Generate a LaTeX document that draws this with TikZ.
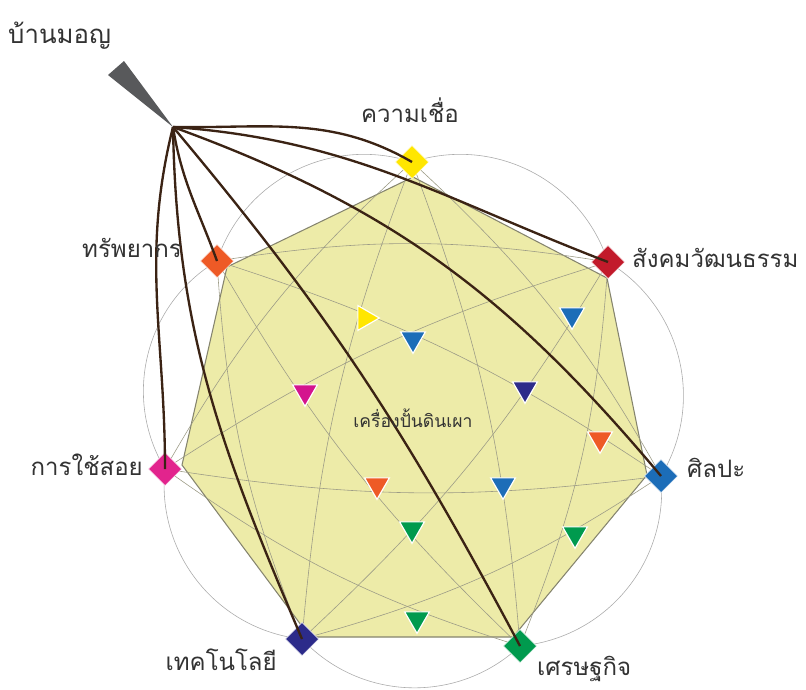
\documentclass[tikz,border=0pt]{standalone}
\usepackage{fontspec}
\newfontfamily\thaifont[Script=Thai]{Loma}
\usetikzlibrary{shapes.geometric}
\definecolor{khaki}{HTML}{EDEBA8}
\definecolor{rimgray}{HTML}{85846E}
\definecolor{webgray}{HTML}{9C9B86}
\definecolor{arcgray}{HTML}{ABABAB}
\definecolor{rootbrown}{HTML}{3B2314}
\definecolor{wedgegray}{HTML}{58595B}
\definecolor{txtgray}{HTML}{333333}
\definecolor{cYellow}{HTML}{FFE600}
\definecolor{cRed}{HTML}{C21A2B}
\definecolor{cBlue}{HTML}{1C6DB8}
\definecolor{cGreen}{HTML}{009A4E}
\definecolor{cNavy}{HTML}{2C2B8A}
\definecolor{cPink}{HTML}{E2248D}
\definecolor{cMagenta}{HTML}{D4148E}
\definecolor{cOrange}{HTML}{EE5A26}
\tikzstyle{facet}=[shape=diamond,minimum size=10mm,inner sep=0,draw=white,line width=.4pt]
\tikzstyle{tri}=[regular polygon,regular polygon sides=3,shape border rotate=180,minimum size=8.6mm,inner sep=0,draw=white,line width=1pt]
\tikzstyle{lbl}=[inner sep=0,txtgray,font=\thaifont\fontsize{20.5}{24}\selectfont]
\tikzstyle{web}=[webgray,line width=.5pt]
\tikzstyle{petal}=[arcgray,line width=.5pt]
\tikzstyle{root}=[rootbrown,line width=2pt]

\begin{document}
\begin{tikzpicture}[x=0.3mm,y=-0.3mm]
\useasboundingbox (0,0) rectangle (806,689);

\foreach \n/\x/\y in {0/412/162,1/608/262,2/661/476,3/520/646,4/302/639,5/165/469,6/217/261}{
	\coordinate (p\n) at (\x,\y);
}

\foreach \i in {0,...,6}{
	\pgfmathtruncatemacro\j{mod(\i+1,7)}
	\draw[petal] (p\i) to[bend left=45] (p\j);
}

\fill[khaki,draw=rimgray,line width=.9pt] (413,177) -- (607,278) -- (647,475) -- (513,637) -- (310,637) -- (182,465) -- (227,267) -- cycle;

\foreach \i in {0,...,6}{
	\pgfmathtruncatemacro\j{mod(\i+2,7)}
	\pgfmathtruncatemacro\k{mod(\i+3,7)}
	\draw[web] (p\i) to[bend left=9] (p\j);
	\draw[web] (p\i) to[bend left=8] (p\k);
}

\node[tri,fill=cYellow,shape border rotate=270] (t0) at (365,318) {};
\foreach \x/\y/\c [count=\n] in {413/339/cBlue,572/315/cBlue,525/389/cNavy,305/392/cMagenta,600/439/cOrange,377/485/cOrange,503/485/cBlue,412/529/cGreen,575/534/cGreen,417/619/cGreen}{
	\node[tri,fill=\c] (t\n) at (\x,\y) {};
}

\foreach \n/\c in {0/cYellow,1/cRed,2/cBlue,3/cGreen,4/cNavy,5/cPink,6/cOrange}{
	\node[facet,fill=\c] (v\n) at (p\n) {};
}

\coordinate (src) at (173,127);
\fill[wedgegray] (src) -- (108,75) -- (124,61) -- cycle;
\draw[root] (src) to[out=-1,in=150] (v0.center);
\draw[root] (src) to[out=-4,in=159] (v1.center);
\draw[root] (src) to[out=-20,in=130] (v2.center);
\draw[root] (src) to[out=-50,in=118] (v3.center);
\draw[root] (src) to[out=-89,in=113] (v4.center);
\draw[root] (src) to[out=-104,in=90] (v5.center);
\draw[root] (src) to[out=-81,in=110] (v6.center);

\node[lbl,anchor=base west,font=\thaifont\fontsize{22}{26}\selectfont] (home) at (8,43) {บ้านมอญ};
\node[lbl,anchor=base] (l0) at (410,122) {ความเชื่อ};
\node[lbl,anchor=base west] (l1) at (632,267) {สังคมวัฒนธรรม};
\node[lbl,anchor=base west] (l2) at (687,477) {ศิลปะ};
\node[lbl,anchor=base west] (l3) at (537,675) {เศรษฐกิจ};
\node[lbl,anchor=base east] (l4) at (277,670) {เทคโนโลยี};
\node[lbl,anchor=base east] (l5) at (143,475) {การใช้สอย};
\node[lbl,anchor=base east] (l6) at (182,257) {ทรัพยากร};
\node[lbl,anchor=base,font=\thaifont\fontsize{15}{18}\selectfont] (pot) at (413,427) {เครื่องปั้นดินเผา};
\end{tikzpicture}
\end{document}
